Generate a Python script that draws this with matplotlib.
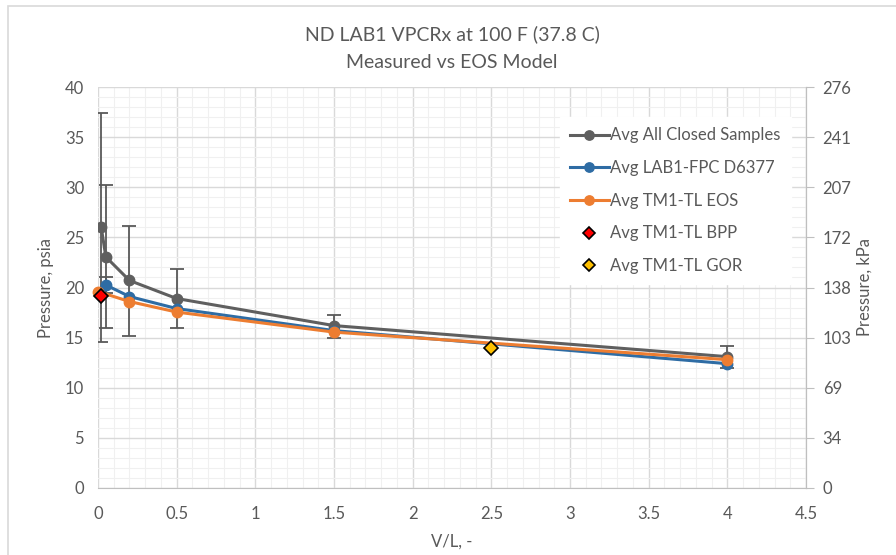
import numpy as np
import matplotlib
matplotlib.use("Agg")
import matplotlib.pyplot as plt
from matplotlib.ticker import MultipleLocator, FixedLocator
from matplotlib.patches import Rectangle

plt.rcParams['font.family'] = ['Lato', 'DejaVu Sans']

# Avg All Closed Samples
x_all = [0.02, 0.05, 0.2, 0.5, 1.5, 4.0]
y_all = [26.05, 23.05, 20.7, 18.9, 16.2, 13.1]
err_lo = [14.6, 15.95, 15.2, 15.95, 14.95, 12.0]
err_hi = [37.45, 30.2, 26.15, 21.8, 17.3, 14.2]

# Avg LAB1-FPC D6377
x_lab = [0.05, 0.2, 0.5, 1.5, 4.0]
y_lab = [20.25, 19.1, 17.9, 15.7, 12.4]
lab_lo = [19.5]
lab_hi = [21.05]

# Avg TM1-TL EOS
x_eos = [0.0, 0.2, 0.5, 1.5, 4.0]
y_eos = [19.6, 18.6, 17.55, 15.55, 12.8]

# single points
x_bpp, y_bpp = [0.02], [19.15]
x_gor, y_gor = [2.5], [14.0]

kpa_ticks = [0, 5, 10, 15, 20, 25, 30, 35, 40]

c_gray = '#5f5f5f'
c_blue = '#2e6ca4'
c_orange = '#ed7d31'
txt = '#595959'

fig = plt.figure(figsize=(8.96, 5.55), dpi=100)
ax = fig.add_axes([98/896, 1-488/555, (806-98)/896, (488-87)/555])

fig.patches.append(Rectangle((8/896, -0.1), 1.2, 1.1-6/555, transform=fig.transFigure,
                             fill=False, edgecolor='#d9d9d9', linewidth=1.2, zorder=0))

ax.set_xlim(0, 4.5)
ax.set_ylim(0, 40)
ax.xaxis.set_major_locator(MultipleLocator(0.5))
ax.xaxis.set_minor_locator(MultipleLocator(0.1))
ax.yaxis.set_major_locator(MultipleLocator(5))
ax.yaxis.set_minor_locator(MultipleLocator(1))
ax.grid(which='major', color='#d9d9d9', linewidth=1.0)
ax.grid(which='minor', color='#f0f0f0', linewidth=0.8)
ax.set_axisbelow(True)
for s in ['top', 'left']:
    ax.spines[s].set_visible(False)
ax.spines['right'].set_color('#bfbfbf')
ax.spines['bottom'].set_color('#bfbfbf')
ax.tick_params(which='both', length=0, labelsize=12, labelcolor=txt)
ax.tick_params(axis='x', pad=13)
ax.tick_params(axis='y', pad=10)
ax.set_xticks(np.arange(0, 4.51, 0.5))
ax.set_xticklabels(['0', '0.5', '1', '1.5', '2', '2.5', '3', '3.5', '4', '4.5'])

ax.errorbar(x_all, y_all,
            yerr=[np.array(y_all) - np.array(err_lo), np.array(err_hi) - np.array(y_all)],
            fmt='none', ecolor='#595959', elinewidth=1.3, capsize=5, capthick=1.3, zorder=2)
ax.errorbar(x_lab[:1], y_lab[:1],
            yerr=[np.array(y_lab[:1]) - np.array(lab_lo), np.array(lab_hi) - np.array(y_lab[:1])],
            fmt='none', ecolor='#595959', elinewidth=1.3, capsize=5, capthick=1.3, zorder=2)

ax.plot(x_all, y_all, '-o', color=c_gray, lw=2.2, ms=7.5, label='Avg All Closed Samples', zorder=3)
ax.plot(x_lab, y_lab, '-o', color=c_blue, lw=2.2, ms=7.5, label='Avg LAB1-FPC D6377', zorder=4)
ax.plot(x_eos, y_eos, '-o', color=c_orange, lw=2.2, ms=7.5, label='Avg TM1-TL EOS', zorder=5,
        clip_on=False)
ax.plot(x_bpp, y_bpp, 'D', color='#ff0000', mec='black', mew=1.2, ms=7, ls='none',
        label='Avg TM1-TL BPP', zorder=6, clip_on=False)
ax.plot(x_gor, y_gor, 'D', color='#ffc000', mec='black', mew=1.2, ms=7, ls='none',
        label='Avg TM1-TL GOR', zorder=6)

ax.set_xlabel('V/L, -', fontsize=12, color=txt, labelpad=8)
ax.set_ylabel('Pressure, psia', fontsize=12, color=txt, labelpad=8)
ax.set_title('ND LAB1 VPCRx at 100 F (37.8 C)\nMeasured vs EOS Model',
             fontsize=14, color=txt, pad=14, linespacing=1.75)

ax2 = ax.twinx()
ax2.set_ylim(0, 40)
ax2.yaxis.set_major_locator(FixedLocator(kpa_ticks))
ax2.set_yticklabels([str(int(round(v * 6.894757))) for v in kpa_ticks])
for s in ['top', 'left', 'bottom']:
    ax2.spines[s].set_visible(False)
ax2.spines['right'].set_color('#bfbfbf')
ax2.tick_params(axis='y', length=6, color='#bfbfbf', labelsize=12, labelcolor=txt, pad=6)
ax2.set_ylabel('Pressure, kPa', fontsize=12, color=txt, labelpad=4)

leg = ax.legend(loc='upper right', bbox_to_anchor=(0.99, 0.945), fontsize=12,
                frameon=True, framealpha=1, edgecolor='white', fancybox=False,
                labelspacing=1.0, handlelength=2.3, handletextpad=0.1, borderpad=0.6,
                markerscale=0.9)
for t in leg.get_texts():
    t.set_color(txt)
leg.set_zorder(10)

fig.savefig('out.png', dpi=100)
